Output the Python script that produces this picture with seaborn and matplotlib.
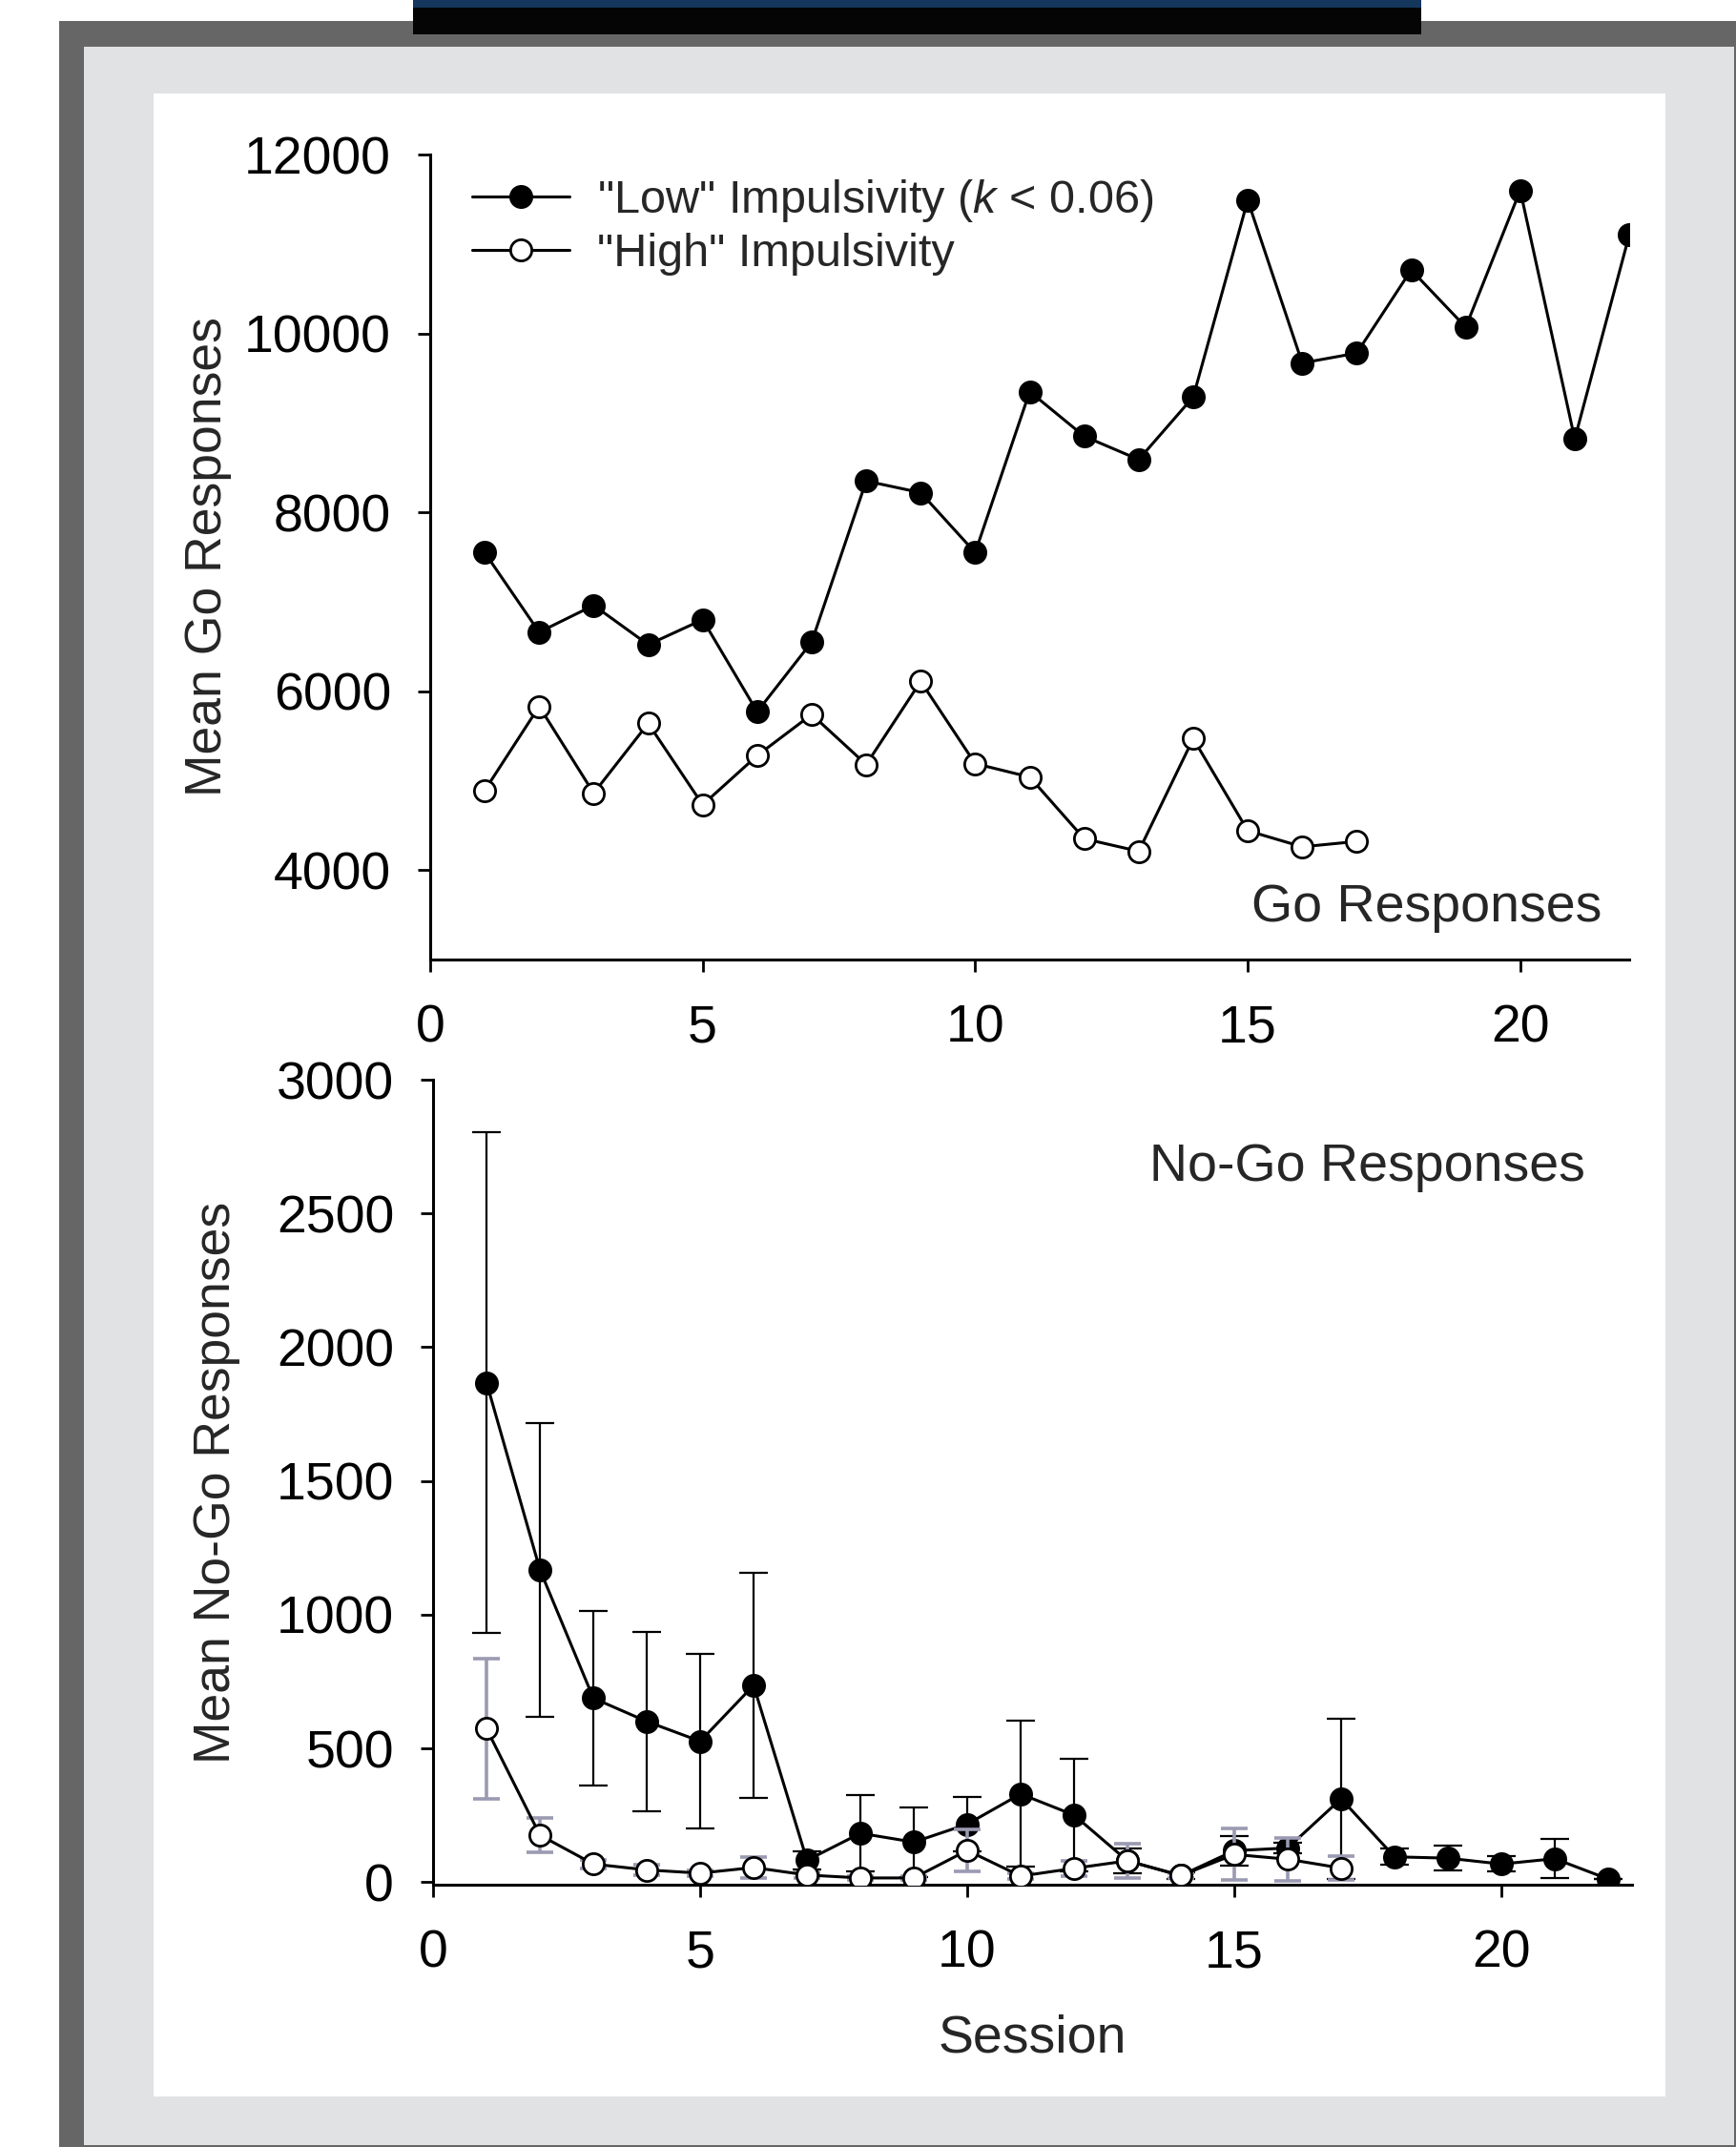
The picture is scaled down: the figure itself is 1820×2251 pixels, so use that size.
import matplotlib
matplotlib.use("Agg")
import numpy as np
import matplotlib.pyplot as plt
import seaborn as sns
from matplotlib.patches import Rectangle
from matplotlib.lines import Line2D

sns.set_style("ticks")
plt.rcParams["font.family"] = ["Liberation Sans", "DejaVu Sans"]
plt.rcParams["mathtext.fontset"] = "custom"
plt.rcParams["mathtext.it"] = "Liberation Sans:italic"
plt.rcParams["mathtext.rm"] = "Liberation Sans"

# Go responses (top panel)
sessions_low = np.arange(1, 23)
go_low = [7550, 6660, 6960, 6520, 6800, 5770, 6550, 8350, 8220, 7550, 9350,
          8850, 8590, 9290, 11490, 9670, 9780, 10710, 10070, 11600, 8820, 11100]
sessions_high = np.arange(1, 18)
go_high = [4890, 5830, 4860, 5640, 4730, 5280, 5740, 5180, 6110, 5190, 5040,
           4350, 4210, 5470, 4440, 4260, 4320]

# No-Go responses (bottom panel), mean and error
nogo_low = [1868, 1168, 688, 601, 527, 736, 82, 183, 150, 217, 330,
            251, 80, 25, 118, 128, 312, 95, 90, 68, 88, 12]
nogo_low_err = [936, 550, 326, 335, 327, 420, 35, 143, 130, 102, 273,
                211, 45, 12, 55, 20, 300, 30, 46, 28, 74, 0]
nogo_high = [574, 176, 68, 46, 34, 55, 27, 16, 16, 119, 23,
             52, 80, 25, 104, 86, 53]
nogo_high_err = [263, 65, 15, 18, 12, 40, 10, 8, 8, 78, 10,
                 28, 65, 10, 96, 81, 45]

FS = 40
W, H = 1820, 2251
fig = plt.figure(figsize=(W / 100, H / 100), dpi=100)
fig.patch.set_facecolor("white")


def px_rect(x0, y0, x1, y1, color):
    # rectangle given in pixel coords from top-left
    r = Rectangle((x0 / W, 1 - y1 / H), (x1 - x0) / W, (y1 - y0) / H,
                  transform=fig.transFigure, facecolor=color,
                  edgecolor="none", zorder=-10)
    fig.patches.append(r)


px_rect(62, 22, 1820, 2251, "#666666")
px_rect(88, 49, 1818, 2249, "#e1e2e4")
px_rect(161, 98, 1746, 2198, "white")
px_rect(433, 0, 1490, 36, "#050505")
px_rect(433, 0, 1490, 8, "#15375e")

ax1 = fig.add_axes([0.2478, 0.5531, 0.6907, 0.3749])
ax2 = fig.add_axes([0.2495, 0.1222, 0.6907, 0.3749])

line_kw = dict(color="black", linewidth=2.2, markersize=16,
               markeredgewidth=2, markeredgecolor="black")

sns.lineplot(x=sessions_low, y=go_low, marker="o", markerfacecolor="black",
             ax=ax1, **line_kw)
sns.lineplot(x=sessions_high, y=go_high, marker="o", markerfacecolor="white",
             ax=ax1, **line_kw)

ax2.errorbar(sessions_low, nogo_low, yerr=nogo_low_err, fmt="none",
             ecolor="black", elinewidth=1.6, capsize=10.5, capthick=1.6, zorder=2)
sns.lineplot(x=sessions_low, y=nogo_low, marker="o", markerfacecolor="black",
             ax=ax2, zorder=3, **line_kw)
ax2.errorbar(sessions_high, nogo_high, yerr=nogo_high_err, fmt="none",
             ecolor="#9a9ab2", elinewidth=2.6, capsize=10, capthick=2.6, zorder=4)
sns.lineplot(x=sessions_high, y=nogo_high, marker="o", markerfacecolor="white",
             ax=ax2, zorder=5, **line_kw)

for ax in (ax1, ax2):
    sns.despine(ax=ax)
    ax.set_facecolor("none")
    for s in ("left", "bottom"):
        ax.spines[s].set_linewidth(2.2)
        ax.spines[s].set_color("black")
    ax.set_xticks([0, 5, 10, 15, 20])
    ax.tick_params(axis="both", direction="out", length=9.5, width=2,
                   labelsize=FS, colors="black")
    ax.tick_params(axis="x", pad=24)
    ax.tick_params(axis="y", pad=20)

ax1.set_xlim(0, 22)
ax1.set_ylim(3000, 12000)
ax1.set_yticks([4000, 6000, 8000, 10000, 12000])
ax2.set_xlim(0, 22.45)
ax2.set_ylim(-9, 3000)
ax2.set_yticks([0, 500, 1000, 1500, 2000, 2500, 3000])

ax1.set_ylabel("Mean Go Responses", fontsize=38.5)
ax1.yaxis.set_label_coords(-0.185, 0.5)
ax1.yaxis.label.set_va("center")
ax2.set_ylabel("Mean No-Go Responses", fontsize=38.5)
ax2.yaxis.set_label_coords(-0.181, 0.5)
ax2.yaxis.label.set_va("center")
ax2.set_xlabel("Session", fontsize=FS)
ax2.xaxis.set_label_coords(0.5, -0.192)
ax2.xaxis.label.set_va("center")
ax1.set_xlabel("")

ax1.text(0.977, 0.064, "Go Responses", transform=ax1.transAxes,
         ha="right", va="center", fontsize=FS)
ax2.text(0.961, 0.891, "No-Go Responses", transform=ax2.transAxes,
         ha="right", va="center", fontsize=FS)

h_low = Line2D([], [], marker="o", markerfacecolor="black", **line_kw)
h_high = Line2D([], [], marker="o", markerfacecolor="white", **line_kw)
ax1.legend([h_low, h_high],
           ['"Low" Impulsivity ($\\it{k}$ < 0.06)', '"High" Impulsivity'],
           loc="upper left", bbox_to_anchor=(0.035, 0.972), frameon=False,
           fontsize=35, handlelength=2.1, handletextpad=0.6,
           labelspacing=0.2, borderpad=0, borderaxespad=0)

fig.savefig("out.png", dpi=100)
